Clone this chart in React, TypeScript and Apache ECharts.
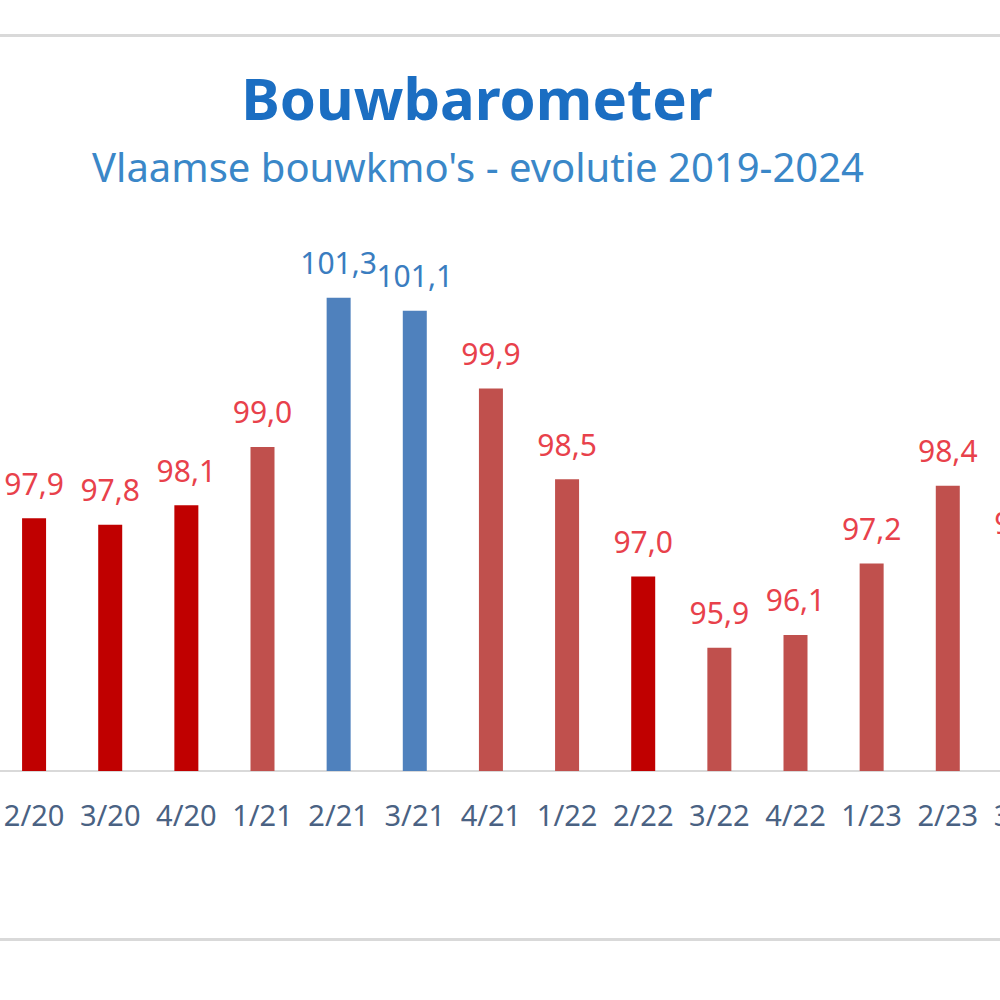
import React, { useEffect, useRef } from "react";
import * as echarts from "echarts";

const categories = ["2/20", "3/20", "4/20", "1/21", "2/21", "3/21", "4/21", "1/22", "2/22", "3/22", "4/22", "1/23", "2/23", "3/23"];
const values = [97.9, 97.8, 98.1, 99.0, 101.3, 101.1, 99.9, 98.5, 97.0, 95.9, 96.1, 97.2, 98.4, 97.3];
const kinds = ["dark", "dark", "dark", "light", "blue", "blue", "light", "light", "dark", "light", "light", "light", "light", "light"];

const titleText = "Bouwbarometer";
const subtitleText = "Vlaamse bouwkmo's - evolutie 2019-2024";

const barColors: Record<string, string> = { dark: "#C00000", light: "#C0504D", blue: "#4F81BD" };
const labelColors: Record<string, string> = { dark: "#E8414B", light: "#E8414B", blue: "#3A7DC0" };

export default function App() {
  const ref = useRef<HTMLDivElement>(null);
  useEffect(() => {
    if (!ref.current) return;
    const chart = echarts.init(ref.current, null, { renderer: "svg" });
    const font = "'Noto Sans', sans-serif";
    chart.setOption({
      animation: false,
      backgroundColor: "#ffffff",
      title: [
        {
          text: titleText,
          left: 472,
          top: 63,
          textAlign: "center",
          textStyle: { fontFamily: font, fontSize: 58, fontWeight: "bold", color: "#1B6EC2" },
        },
        {
          text: subtitleText,
          left: 473,
          top: 141,
          textAlign: "center",
          textStyle: { fontFamily: font, fontSize: 40, fontWeight: "normal", color: "#3A87C8" },
        },
      ],
      graphic: [
        { type: "rect", shape: { x: 0, y: 34, width: 1000, height: 3 }, style: { fill: "#D9D9D9" }, silent: true },
        { type: "rect", shape: { x: 0, y: 938, width: 1000, height: 3 }, style: { fill: "#D9D9D9" }, silent: true },
      ],
      grid: { left: -4, width: 1066, top: 252.5, height: 518.5, containLabel: false, outerBoundsMode: "none" },
      xAxis: {
        type: "category",
        data: categories,
        axisLine: { show: true, lineStyle: { color: "#D9D9D9", width: 2 } },
        axisTick: { show: false },
        axisLabel: { color: "#4A6283", fontFamily: font, fontSize: 29, margin: 29, interval: 0 },
      },
      yAxis: {
        type: "value",
        min: 94,
        max: 102,
        interval: 1,
        show: false,
        splitLine: { show: false },
      },
      series: [
        {
          type: "bar",
          barWidth: 24,
          data: values.map((v, i) => ({
            value: v,
            itemStyle: { color: barColors[kinds[i]] },
            label: { color: labelColors[kinds[i]] },
          })),
          label: {
            show: true,
            position: "top",
            distance: 20,
            fontFamily: font,
            fontSize: 30,
            formatter: (p: any) => Number(p.value).toFixed(1).replace(".", ","),
          },
        },
      ],
    });
    return () => chart.dispose();
  }, []);
  return <div ref={ref} style={{ position: "absolute", left: 0, top: 0, width: 1000, height: 1000 }} />;
}
